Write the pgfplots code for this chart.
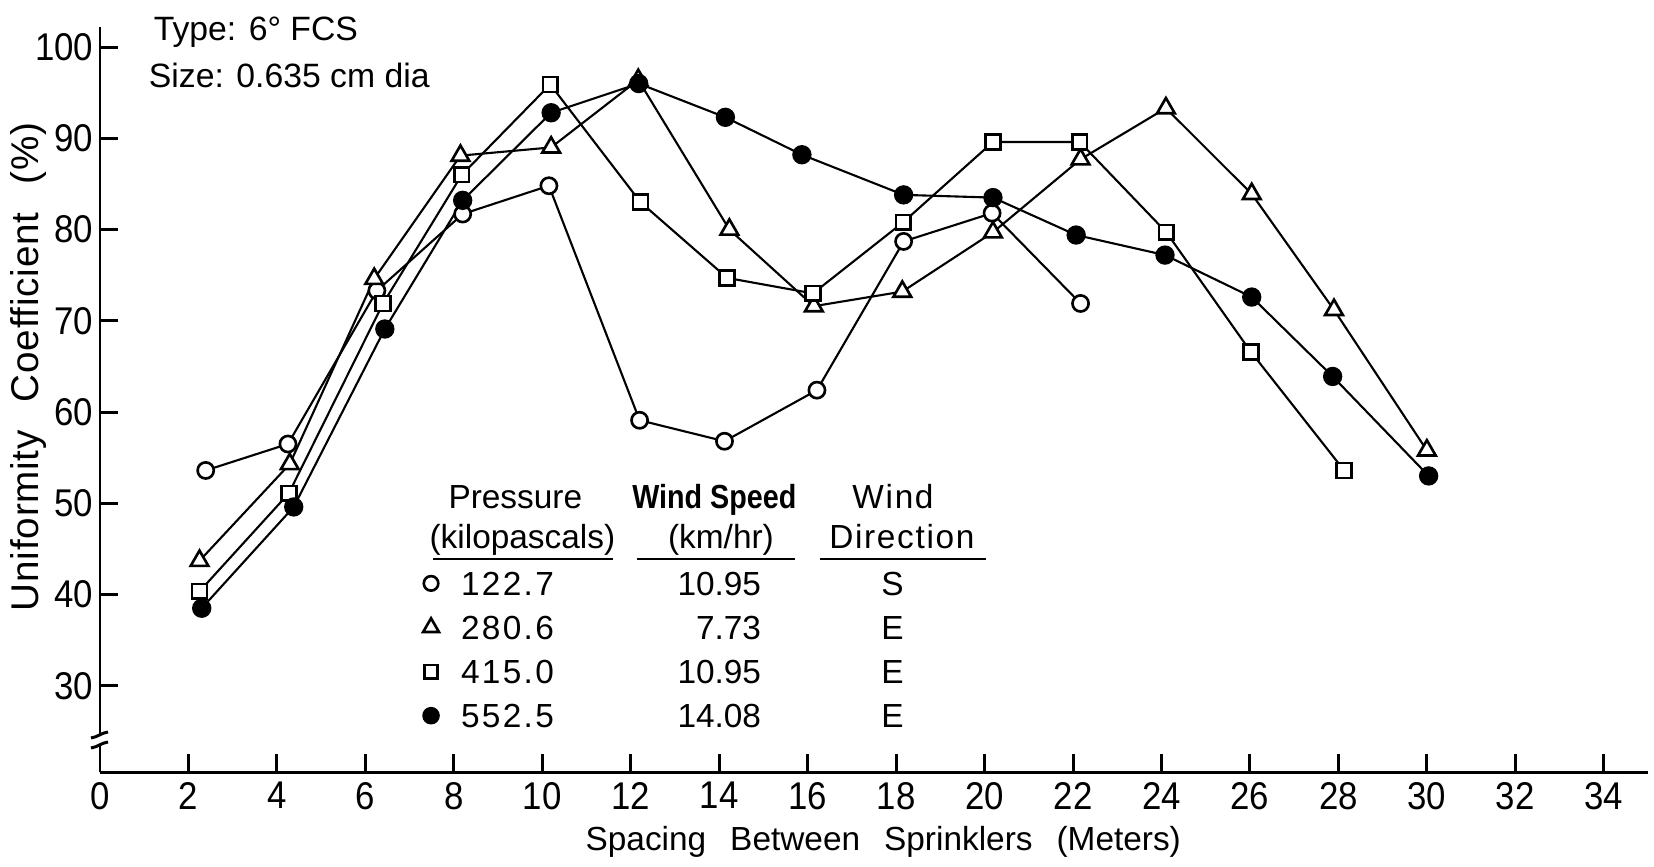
\documentclass[border=0pt]{standalone}
\usepackage{fontspec}
\setmainfont{Liberation Sans}
\newfontfamily\tickfont[FakeStretch=0.9]{Liberation Sans}
\newfontfamily\pfont[LetterSpace=7]{Liberation Sans}
\newfontfamily\legcond[FakeStretch=0.86]{Liberation Sans}
\newfontfamily\lsfont[LetterSpace=5]{Liberation Sans}
\newfontfamily\ylfont[LetterSpace=2]{Liberation Sans}
\usepackage{pgfplots}
\pgfplotsset{compat=1.18}

\begin{document}
\begin{tikzpicture}
\begin{axis}[
  name=ax,
  scale only axis,
  width=154.8mm, height=74.55mm,
  xmin=0, xmax=35, ymin=20.5, ymax=102.2,
  axis lines=left,
  axis line style={-, line width=0.85pt},
  xtick={0,2,...,34},
  ytick={30,40,...,100},
  tick align=inside,
  major tick length=1.8mm,
  tick style={line width=0.85pt, black},
  /pgf/number format/assume math mode=true,
  ticklabel style={font=\tickfont\fontsize{11}{13}\selectfont},
  xticklabel style={inner sep=0pt, yshift=-0.9mm},
  yticklabel style={inner sep=0pt, xshift=-0.6mm},
  xlabel={Spacing\hspace{2.4mm}Between\hspace{2.4mm}Sprinklers\hspace{2.4mm}(Meters)},
  xlabel style={at={(axis description cs:0.506,0)}, anchor=base, yshift=-7.85mm, inner sep=0pt,
    font=\fontsize{9.5}{11}\selectfont},
  ylabel={Uniformity\hspace{2.8mm}Coefficient\hspace{2.8mm}(\%)},
  ylabel style={at={(axis description cs:-0.0459,0.544)}, anchor=center, inner sep=0pt,
    font=\ylfont\fontsize{11}{13}\selectfont},
  clip=false,
  every axis plot/.append style={line width=0.6pt, black},
  legend image code/.code={
    \path[draw=none, fill=none] (-1mm,-1.18mm) rectangle (1mm,1.18mm);
    \draw[#1, only marks, /tikz/every mark/.append style={scale=0.9}] plot coordinates {(0mm,0mm)};
  },
  legend cell align=left,
  legend style={at={(0.2074,0.2695)}, anchor=north west, draw=none, fill=none,
    inner xsep=0pt, inner ysep=0pt, outer sep=0pt,
    row sep=2.05mm, column sep=2.0mm,
    font=\fontsize{9.5}{11}\selectfont,
    nodes={inner sep=0pt, text height=2.36mm, text depth=0pt}},
]
% 122.7 kPa, open circles
\addplot[mark=*, mark size=2.3pt, mark options={fill=white, line width=0.75pt}]
  coordinates {(2.39,53.6) (4.25,56.5) (6.26,73.3) (8.2,81.7) (10.15,84.8) (12.2,59.1)
  (14.12,56.8) (16.21,62.4) (18.17,78.7) (20.17,81.8) (22.17,71.9)};
\addlegendentry{\makebox[19.3mm][l]{\pfont 122.7}\makebox[10.7mm][r]{10.95}\makebox[26.3mm][c]{S}}
% 280.6 kPa, open triangles
\addplot[mark=triangle*, mark size=2.9pt, mark options={fill=white, line width=0.75pt}]
  coordinates {(2.25,43.7) (4.29,54.3) (6.2,74.6) (8.15,88.1) (10.2,89.0) (12.17,96.4)
  (14.23,80.0) (16.14,71.6) (18.14,73.2) (20.19,79.7) (22.17,87.7) (24.1,93.3)
  (26.04,83.9) (27.9,71.2) (30.0,55.8)};
\addlegendentry{\makebox[19.3mm][l]{\pfont 280.6}\makebox[10.7mm][r]{7.73}\makebox[26.3mm][c]{E}}
% 415.0 kPa, open squares
\addplot[mark=square*, mark size=2.1pt, mark options={fill=white, line width=0.75pt}]
  coordinates {(2.25,40.35) (4.27,51.1) (6.4,71.9) (8.18,86.0) (10.18,95.9) (12.22,83.0)
  (14.18,74.7) (16.12,73.0) (18.16,80.8) (20.19,89.6) (22.15,89.6) (24.11,79.7)
  (26.02,66.6) (28.13,53.6)};
\addlegendentry{\makebox[19.3mm][l]{\pfont 415.0}\makebox[10.7mm][r]{10.95}\makebox[26.3mm][c]{E}}
% 552.5 kPa, filled circles
\addplot[mark=*, mark size=2.5pt, mark options={fill=black, line width=0.5pt}]
  coordinates {(2.3,38.5) (4.38,49.6) (6.44,69.1) (8.2,83.2) (10.2,92.8) (12.18,96.0)
  (14.14,92.3) (15.87,88.2) (18.17,83.8) (20.19,83.5) (22.07,79.4) (24.08,77.2)
  (26.04,72.6) (27.87,63.9) (30.04,53.0)};
\addlegendentry{\makebox[19.3mm][l]{\pfont 552.5}\makebox[10.7mm][r]{14.08}\makebox[26.3mm][c]{E}}

% title
\node[anchor=base west, inner sep=0pt, font=\fontsize{9.6}{11}\selectfont] at (axis cs:1.2,100.77) {Type: 6° FCS};
\node[anchor=base west, inner sep=0pt, font=\fontsize{9.6}{11}\selectfont] at (axis cs:1.09,95.6) {Size: 0.635 cm dia};

% legend headers
\begin{scope}[every node/.style={anchor=base, inner sep=0pt, font=\fontsize{9.5}{11}\selectfont}]
\node at (axis cs:9.39,49.48) {Pressure};
\node at (axis cs:9.55,45.09) {(kilopascals)};
\node at (axis cs:13.89,49.48) {\legcond\bfseries Wind Speed};
\node at (axis cs:14.04,45.09) {(km/hr)};
\node at (axis cs:17.93,49.48) {\lsfont Wind};
\node at (axis cs:18.13,45.09) {\lsfont Direction};
\end{scope}
\draw[line width=0.8pt] (axis cs:7.52,43.89) -- (axis cs:11.59,43.89);
\draw[line width=0.8pt] (axis cs:12.14,43.89) -- (axis cs:15.71,43.89);
\draw[line width=0.8pt] (axis cs:16.29,43.89) -- (axis cs:20.03,43.89);
\end{axis}
% break in the y axis
\fill[white] ([shift={(-0.6mm,2.75mm)}]ax.south west) rectangle ([shift={(0.6mm,3.75mm)}]ax.south west);
\draw[line width=0.85pt] ([shift={(-0.9mm,2.45mm)}]ax.south west) .. controls ([shift={(-0.2mm,2.55mm)}]ax.south west) and ([shift={(0.1mm,2.95mm)}]ax.south west) .. ([shift={(0.8mm,3.05mm)}]ax.south west);
\draw[line width=0.85pt] ([shift={(-0.9mm,3.45mm)}]ax.south west) .. controls ([shift={(-0.2mm,3.55mm)}]ax.south west) and ([shift={(0.1mm,3.95mm)}]ax.south west) .. ([shift={(0.8mm,4.05mm)}]ax.south west);
\path ([shift={(-10mm,-9.45mm)}]ax.south west) rectangle ([shift={(0.6mm,2.7mm)}]ax.north east);
\end{tikzpicture}
\end{document}
